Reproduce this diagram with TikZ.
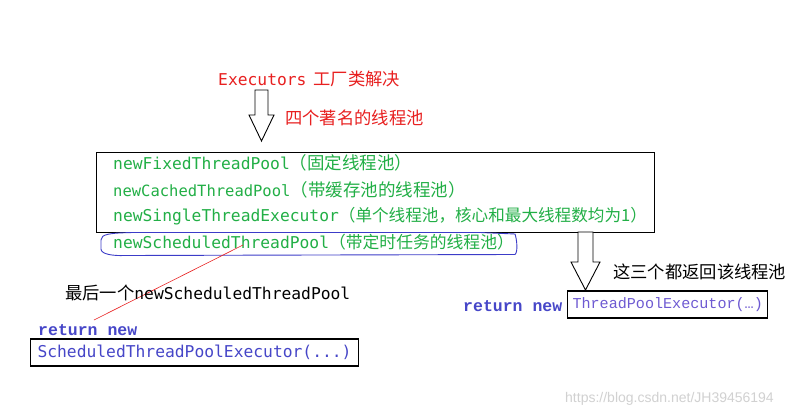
\documentclass[tikz,border=0pt]{standalone}
\usepackage{fontspec}
\newfontfamily\cjk{Noto Sans CJK SC}
\newfontfamily\mono{DejaVu Sans Mono}
\newfontfamily\cour{Liberation Mono}
\newfontfamily\wmfont{Liberation Sans}
\newcommand\fsz[1]{\fontsize{#1}{#1}\selectfont}
\definecolor{myred}{RGB}{232,32,32}
\definecolor{mygreen}{RGB}{34,175,70}
\definecolor{myblue}{RGB}{60,60,200}
\definecolor{retblue}{RGB}{70,70,200}
\definecolor{violet2}{RGB}{110,90,210}
\begin{document}
\begin{tikzpicture}[x=1pt,y=-1pt,
  txt/.style={anchor=west,inner sep=0pt},
  codebox/.style={draw=black,line width=1.1pt,anchor=west,inner ysep=0pt,minimum height=27pt},
  hollow/.style={draw=black,line width=0.9pt,fill=white}]
\useasboundingbox[fill=white] (0,0) rectangle (811,420);
% top
\node[txt,text=myred] (exe) at (218,79) {\mono\fsz{16.3}Executors\hspace{7pt}\cjk\fsz{17.3}工厂类解决};
\draw[hollow] (255,90) -- (268,90) -- (268,115) -- (274,115) -- (261.5,141) -- (249,115) -- (255,115) -- cycle;
\node[txt,text=myred] (four) at (285,118) {\cjk\fsz{17.3}四个著名的线程池};
% main box
\node[draw=black,line width=1.1pt,anchor=north west,minimum width=558pt,minimum height=80pt,inner sep=0pt] (pools) at (96,152) {};
\node[txt,text=mygreen] (l1) at (113,163) {\mono\fsz{16.3}newFixedThreadPool\cjk\fsz{17.5}（固定线程池）};
\node[txt,text=mygreen] (l2) at (113,190) {\mono\fsz{15.5}newCachedThreadPool\cjk\fsz{17.5}（带缓存池的线程池）};
\node[txt,text=mygreen] (l3) at (113,216) {\mono\fsz{16.3}newSingleThreadExecutor\cjk\fsz{16.6}（单个线程池，核心和最大线程数均为1）};
\node[txt,text=mygreen] (l4) at (113,242) {\mono\fsz{16.3}newScheduledThreadPool\cjk\fsz{16.8}（带定时任务的线程池）};
% blue hand-drawn loop
\draw[myblue,line width=0.9pt] (133,232.5) .. controls (110,233) and (101,234) .. (101,240)
  -- (101,249) .. controls (101,254) and (112,256) .. (125,255.5)
  -- (515,254.5) .. controls (518,252) and (517,240) .. (515,234)
  -- (480,232.5) -- cycle;
% red line
\coordinate (rs) at (243,245);
\coordinate (re) at (94,320);
\draw[myred,line width=0.6pt] (rs) -- (re);
\node[txt] (last) at (65,293) {\cjk\fsz{17.3}最后一个\mono\fsz{16.3}newScheduledThreadPool};
\node[txt,text=retblue] (ret1) at (38,330) {\cour\bfseries\fsz{16.5}return new};
\node[codebox,text=retblue,inner xsep=7pt] (sbox) at (30,352.5) {\mono\fsz{16.3}ScheduledThreadPoolExecutor(...)};
% right arrow
\draw[hollow] (578,232) -- (593,232) -- (593,262) -- (600,262) -- (585.5,290) -- (571,262) -- (578,262) -- cycle;
\node[txt] (three) at (613,272) {\cjk\fsz{17.3}这三个都返回该线程池};
\node[txt,text=retblue] (ret2) at (463,306) {\cour\bfseries\fsz{16.5}return new};
\node[codebox,text=violet2,inner xsep=5pt] (tbox) at (567,304.5) {\cour\fsz{15.1}ThreadPoolExecutor(…)};
% watermark
\node[txt,text=black!18] (wm) at (565,399) {\wmfont\fsz{14}https://blog.csdn.net/JH39456194};
\end{tikzpicture}
\end{document}
